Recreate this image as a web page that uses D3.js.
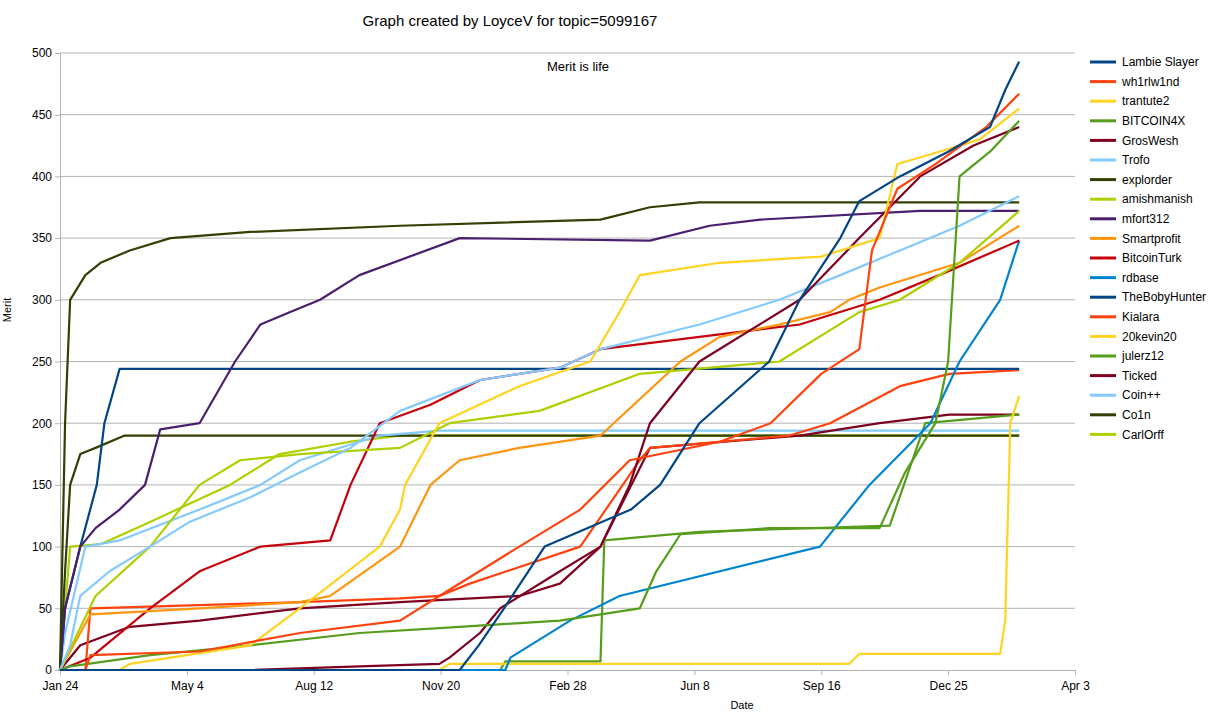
<!DOCTYPE html>
<html>
<head>
<meta charset="utf-8">
<script src="https://cdn.jsdelivr.net/npm/d3@7"></script>
<style>
  body { margin: 0; background: #fff; font-family: "Liberation Sans", Arial, sans-serif; }
</style>
</head>
<body>
<svg id="chart" width="1223" height="714"></svg>
<script>
// x values are days since Jan 24 2018, y values are merit
const names = ["Lambie Slayer", "wh1rlw1nd", "trantute2", "BITCOIN4X", "GrosWesh", "Trofo", "explorder",
  "amishmanish", "mfort312", "Smartprofit", "BitcoinTurk", "rdbase", "TheBobyHunter", "Kialara",
  "20kevin20", "julerz12", "Ticked", "Coin++", "Co1n", "CarlOrff"];
const colors = ["#004586", "#ff420e", "#ffd320", "#579d1c", "#7e0021", "#83caff", "#314004", "#aecf00",
  "#4b1f6f", "#ff950e", "#c5000b", "#0084d1"];

const lambieSlayer = [[0,0],[315,0],[330,20],[350,50],[382,100],[450,130],[473,150],[504,200],[559,250],[583,300],[615,350],[630,380],[662,400],[700,420],[733,440],[745,470],[756,493]];
const wh1rlw1nd = [[0,0],[20,0],[24,12],[110,15],[189,30],[268,40],[299,60],[362,100],[410,130],[449,170],[520,185],[560,200],[600,240],[630,260],[640,340],[660,390],[690,410],[730,440],[756,467]];
const trantute2 = [[0,0],[47,0],[55,5],[150,20],[189,50],[252,100],[268,130],[272,150],[299,200],[362,230],[418,250],[441,290],[457,320],[520,330],[600,335],[646,350],[660,410],[693,420],[725,430],[756,455]];
const bitcoin4x = [[0,0],[8,3],[71,12],[150,20],[236,30],[315,35],[394,40],[457,50],[470,80],[489,110],[560,115],[646,115],[666,160],[690,200],[700,250],[709,400],[733,420],[756,445]];
const grosWesh = [[0,0],[150,0],[236,3],[299,5],[307,10],[331,30],[347,50],[394,80],[426,100],[449,150],[465,200],[504,250],[583,300],[630,350],[678,400],[720,425],[756,440]];
const trofo = [[0,0],[8,20],[16,60],[39,80],[71,100],[102,120],[150,140],[189,160],[229,180],[268,210],[331,235],[394,245],[426,260],[504,280],[567,300],[615,320],[662,340],[709,360],[756,384]];
const explorder = [[0,0],[4,200],[8,300],[20,320],[32,330],[55,340],[87,350],[150,355],[268,360],[426,365],[465,375],[504,379],[756,379]];
const amishmanish = [[0,0],[28,60],[71,100],[110,150],[142,170],[189,175],[268,180],[307,200],[378,210],[457,240],[567,250],[630,290],[662,300],[709,330],[756,372]];
const mfort312 = [[0,0],[4,50],[16,100],[28,115],[47,130],[67,150],[79,195],[110,200],[138,250],[158,280],[181,290],[205,300],[236,320],[315,350],[465,348],[512,360],[552,365],[678,372],[756,372]];
const smartprofit = [[0,0],[24,45],[110,50],[189,55],[213,60],[268,100],[292,150],[315,170],[362,180],[426,190],[489,250],[520,270],[567,280],[607,290],[622,300],[646,310],[709,330],[756,360]];
const bitcoinTurk = [[0,0],[24,10],[71,50],[110,80],[158,100],[213,105],[229,150],[252,200],[292,215],[331,235],[394,245],[426,260],[504,270],[583,280],[646,300],[693,320],[756,348]];
const rdbase = [[0,0],[351,0],[355,10],[402,40],[441,60],[599,100],[638,150],[686,200],[709,250],[741,300],[756,348]];
const theBobyHunter = [[0,0],[4,50],[16,100],[29,150],[35,200],[47,244],[756,244]];
const kialara = [[0,0],[20,0],[24,50],[189,55],[268,58],[299,60],[323,70],[410,100],[457,170],[465,180],[575,190],[607,200],[662,230],[701,240],[756,243]];
const kevin20 = [[0,0],[299,0],[307,5],[622,5],[630,13],[741,13],[745,40],[749,200],[756,222]];
const julerz12 = [[0,0],[347,0],[351,7],[426,7],[429,105],[504,112],[654,117],[682,200],[756,207]];
const ticked = [[0,0],[16,20],[55,35],[110,40],[189,50],[268,55],[362,60],[394,70],[426,100],[465,180],[583,190],[646,200],[701,207],[756,207]];
const coinPlus = [[0,0],[4,30],[20,100],[47,105],[110,130],[158,150],[189,170],[252,190],[299,194],[756,194]];
const co1n = [[0,0],[4,80],[8,150],[16,175],[28,180],[51,190],[756,190]];
const carlOrff = [[0,0],[8,100],[32,102],[71,120],[134,150],[173,175],[229,185],[268,190],[756,190]];

const seriesData = [lambieSlayer, wh1rlw1nd, trantute2, bitcoin4x, grosWesh, trofo, explorder, amishmanish,
  mfort312, smartprofit, bitcoinTurk, rdbase, theBobyHunter, kialara, kevin20, julerz12, ticked, coinPlus, co1n, carlOrff];
const xTickLabels = ["Jan 24", "May 4", "Aug 12", "Nov 20", "Feb 28", "Jun 8", "Sep 16", "Dec 25", "Apr 3"];
const yTicks = [0, 50, 100, 150, 200, 250, 300, 350, 400, 450, 500];

const svg = d3.select("#chart");
const margin = { top: 53, right: 148, bottom: 44, left: 60 };
const width = 1223, height = 714;

const x = d3.scaleLinear().domain([0, 800]).range([margin.left, width - margin.right]);
const y = d3.scaleLinear().domain([0, 500]).range([height - margin.bottom, margin.top]);

// gridlines
svg.append("g")
  .selectAll("line")
  .data(yTicks.slice(1))
  .enter().append("line")
  .attr("x1", x(0)).attr("x2", x(800))
  .attr("y1", d => y(d)).attr("y2", d => y(d))
  .attr("stroke", "#b3b3b3");

svg.append("g")
  .attr("transform", `translate(0, ${y(0)})`)
  .call(d3.axisBottom(x).tickValues(d3.range(0, 801, 100)).tickFormat((d, i) => xTickLabels[i]).tickSize(5).tickSizeOuter(0))
  .call(g => g.selectAll("text").style("font-size", "12px").style("font-family", "Liberation Sans").attr("dy", "1em"))
  .call(g => g.selectAll("path, line").attr("stroke", "#b3b3b3"));

svg.append("g")
  .attr("transform", `translate(${x(0)}, 0)`)
  .call(d3.axisLeft(y).tickValues(yTicks).tickSize(5).tickSizeOuter(0))
  .call(g => g.selectAll("text").style("font-size", "12px").style("font-family", "Liberation Sans"))
  .call(g => g.selectAll("path, line").attr("stroke", "#b3b3b3"));

const line = d3.line().x(d => x(d[0])).y(d => y(d[1]));

// draw in reverse so the first series sits on top
seriesData.map((d, i) => ({ d, i })).reverse().forEach(({ d, i }) => {
  svg.append("path")
    .attr("d", line(d))
    .attr("fill", "none")
    .attr("stroke", colors[i % colors.length])
    .attr("stroke-width", 2.2)
    .attr("stroke-linejoin", "round");
});

// legend
const legend = svg.append("g").attr("transform", "translate(1090, 62)");
names.forEach((n, i) => {
  const g = legend.append("g").attr("transform", `translate(0, ${i * 19.6})`);
  g.append("line").attr("x1", 0).attr("x2", 26).attr("stroke", colors[i % colors.length]).attr("stroke-width", 3);
  g.append("text").attr("x", 32).attr("dy", "0.35em").style("font-size", "12px").text(n);
});

svg.append("text")
  .attr("x", 510).attr("y", 26)
  .attr("text-anchor", "middle")
  .style("font-size", "15px")
  .text("Graph created by LoyceV for topic=5099167");

svg.append("text")
  .attr("x", 578).attr("y", 71)
  .attr("text-anchor", "middle")
  .style("font-size", "13px")
  .text("Merit is life");

svg.append("text")
  .attr("x", 742).attr("y", 709)
  .attr("text-anchor", "middle")
  .style("font-size", "11px")
  .text("Date");

svg.append("text")
  .attr("transform", "rotate(-90)")
  .attr("x", -310).attr("y", 11)
  .attr("text-anchor", "middle")
  .style("font-size", "11px")
  .text("Merit");
</script>
</body>
</html>
